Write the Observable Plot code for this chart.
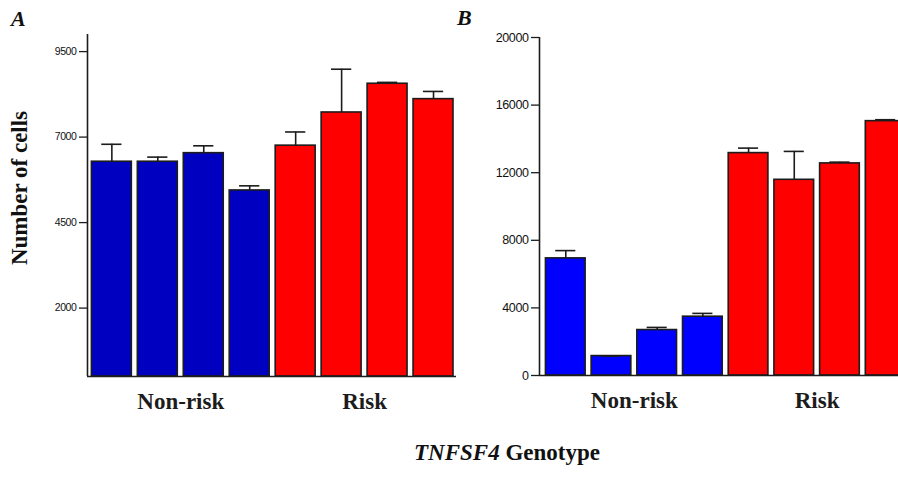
<!DOCTYPE html>
<html>
<head>
<meta charset="utf-8">
<script src="https://cdn.jsdelivr.net/npm/d3@7"></script>
<script src="https://cdn.jsdelivr.net/npm/@observablehq/plot@0.6"></script>
<style>
  html, body { margin: 0; padding: 0; background: #fff; overflow: hidden; }
  #fig { position: relative; width: 898px; height: 477px; overflow: hidden; background: #fff; color: #111; }
  .panel { position: absolute; top: 0; }
  .tag { position: absolute; font: italic bold 22px "Liberation Serif", serif; }
  #ylab { position: absolute; left: 20px; top: 188px; transform: translate(-50%, -50%) rotate(-90deg);
          white-space: nowrap; font: bold 23px "Liberation Serif", serif; }
  #xlab { position: absolute; left: 507px; top: 440px; transform: translateX(-50%);
          white-space: nowrap; font: bold 23px "Liberation Serif", serif; }
  #fig g[aria-label="y-axis tick label"] text { letter-spacing: -0.4px; }
</style>
</head>
<body>
<div id="fig">
  <div class="tag" style="left:11px;top:6px">A</div>
  <div class="tag" style="left:457px;top:5px">B</div>
  <div id="ylab">Number of cells</div>
  <div id="xlab"><i>TNFSF4</i> Genotype</div>
</div>
<script>
// Genotype group of each of the eight bars (four donors per group)
const genotypes = ["Non-risk", "Non-risk", "Non-risk", "Non-risk", "Risk", "Risk", "Risk", "Risk"];
const groups = ["Non-risk", "Risk"];

// Panel A: number of cells, mean and upper error
const cellsA = [6280, 6280, 6530, 5440, 6750, 7720, 8560, 8110];
const errA   = [510, 135, 215, 135, 400, 1265, 40, 225];
const ticksA = [2000, 4500, 7000, 9500];

// Panel B: number of cells, mean and upper error
const cellsB = [6930, 1150, 2690, 3480, 13160, 11580, 12550, 15050];
const errB   = [460, 0, 155, 195, 295, 1680, 75, 85];
const ticksB = [0, 4000, 8000, 12000, 16000, 20000];

const RED = "#ff0000";
const INK = "#1c1c1c";

function panel({values, errors, blue, yMax, ticks, xStart, marginTop, tickFontSize}) {
  const bars = values.map((v, i) => ({i, group: genotypes[i], value: v, err: errors[i]}));
  const labels = groups.map(g => ({
    name: g,
    center: d3.mean(bars.filter(b => b.group === g), b => b.i) + 0.5
  }));
  const fillOf = d => d.group === "Non-risk" ? blue : RED;
  return Plot.plot({
    width: 460,
    height: 420,
    marginLeft: 87,
    marginRight: 4,
    marginTop,
    marginBottom: 420 - (marginTop + (yMax === 10000 ? 342 : 338)),
    x: {domain: [xStart, 8], axis: null},
    y: {domain: [0, yMax], axis: null},
    style: {background: "transparent", overflow: "visible"},
    marks: [
      Plot.rectY(bars, {x1: "i", x2: d => d.i + 1, y1: 0, y2: "value", fill: fillOf,
                        stroke: INK, strokeWidth: 1.6, insetLeft: 3, insetRight: 3}),
      Plot.ruleX(bars, {x: d => d.i + 0.5, y1: "value", y2: d => d.value + d.err,
                        stroke: INK, strokeWidth: 1.6}),
      Plot.ruleY(bars, {x1: d => d.i + 0.28, x2: d => d.i + 0.72, y: d => d.value + d.err,
                        stroke: INK, strokeWidth: 1.6}),
      Plot.ruleX([xStart], {y1: 0, y2: yMax, stroke: INK, strokeWidth: 1.6}),
      Plot.ruleY([0], {stroke: INK, strokeWidth: 1.6}),
      Plot.axisY({ticks, tickSize: 8, tickPadding: 3, tickFormat: d => String(d), label: null,
                  fontSize: tickFontSize, fontFamily: "Liberation Sans, Arial, sans-serif",
                  stroke: INK, strokeWidth: 1.3}),
      Plot.text(labels, {x: "center", y: 0, text: "name", dy: 25, lineAnchor: "middle",
                         fontSize: 23, fontWeight: "bold", fontFamily: "Liberation Serif, serif",
                         fill: INK})
    ]
  });
}

const fig = document.getElementById("fig");

const a = panel({values: cellsA, errors: errA, blue: "#0000c0", yMax: 10000, ticks: ticksA,
                 xStart: -0.03, marginTop: 34, tickFontSize: 10.5});
a.classList.add("panel");
a.style.left = "0px";
fig.appendChild(a);

const b = panel({values: cellsB, errors: errB, blue: "#0000ff", yMax: 20000, ticks: ticksB,
                 xStart: -0.075, marginTop: 37, tickFontSize: 12.5});
b.classList.add("panel");
b.style.left = "452px";
fig.appendChild(b);
</script>
</body>
</html>
